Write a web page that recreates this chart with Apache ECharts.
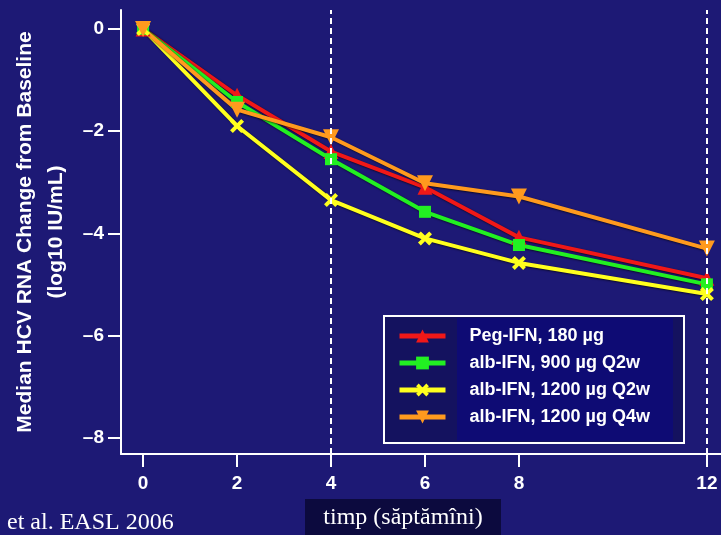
<!DOCTYPE html>
<html>
<head>
<meta charset="utf-8">
<title>HCV RNA change</title>
<script src="https://cdn.jsdelivr.net/npm/echarts@6/dist/echarts.min.js"></script>
<style>
  html, body { margin: 0; padding: 0; background: #1d1975; }
  #chart { width: 721px; height: 535px; }
</style>
</head>
<body>
<div id="chart"></div>
<script>
// weeks on the x axis
const weeks = [0, 2, 4, 6, 8, 12];
const xTicks = [0, 2, 4, 6, 8, 12];
const yTicks = [0, -2, -4, -6, -8];
// dashed reference weeks
const markWeeks = [4, 12];

const seriesNames = [
  'Peg-IFN, 180 µg',
  'alb-IFN, 900 µg Q2w',
  'alb-IFN, 1200 µg Q2w',
  'alb-IFN, 1200 µg Q4w'
];
// median change, log10 IU/mL
const pegIfn180 = [0, -1.3, -2.4, -3.1, -4.08, -4.88];
const albIfn900Q2w = [0, -1.43, -2.55, -3.58, -4.23, -5.0];
const albIfn1200Q2w = [0, -1.9, -3.35, -4.1, -4.58, -5.19];
const albIfn1200Q4w = [0, -1.58, -2.12, -3.02, -3.28, -4.3];

const colors = ['#f01818', '#22f022', '#ffff1e', '#ff9a1e'];
const crossPath = 'path://M2,0L5,3L8,0L10,2L7,5L10,8L8,10L5,7L2,10L0,8L3,5L0,2Z';

const chart = echarts.init(document.getElementById('chart'));

function pairs(values) {
  return weeks.map((w, i) => [w, values[i]]);
}

function lineSeries(name, values, color, symbol, size, rotate) {
  return {
    name: name,
    type: 'line',
    data: pairs(values),
    symbol: symbol,
    symbolSize: size,
    symbolRotate: rotate || 0,
    showSymbol: true,
    lineStyle: {
      color: color,
      width: 4,
      shadowColor: 'rgba(0,0,0,0.7)',
      shadowBlur: 2,
      shadowOffsetX: 1,
      shadowOffsetY: 1
    },
    itemStyle: {color: color},
    emphasis: {disabled: true},
    animation: false
  };
}

const minusLabel = v => (v < 0 ? '–' + (-v) : String(v));

const series = [
  lineSeries(seriesNames[0], pegIfn180, colors[0], 'triangle', 15),
  lineSeries(seriesNames[1], albIfn900Q2w, colors[1], 'rect', 12),
  lineSeries(seriesNames[2], albIfn1200Q2w, colors[2], crossPath, 14),
  lineSeries(seriesNames[3], albIfn1200Q4w, colors[3], 'triangle', 16, 180)
];
// dashed verticals at week 4 and 12
series[0].markLine = {
  silent: true,
  symbol: 'none',
  label: {show: false},
  lineStyle: {color: '#ffffff', type: [6, 4], width: 2},
  data: markWeeks.map(w => ({xAxis: w}))
};

chart.setOption({
  backgroundColor: '#1d1975',
  animation: false,
  grid: {left: 121, top: 10, right: 0, bottom: 81},
  xAxis: {
    type: 'value',
    min: -0.47,
    max: 12.3,
    name: 'Study Week',
    nameLocation: 'middle',
    nameGap: 45,
    nameTextStyle: {color: '#ffffff', fontSize: 21, fontWeight: 'bold', fontFamily: 'Liberation Sans'},
    axisLine: {onZero: false, lineStyle: {color: '#ffffff', width: 2}},
    axisTick: {length: 13, customValues: xTicks, lineStyle: {color: '#ffffff', width: 2}},
    axisLabel: {
      customValues: xTicks,
      margin: 20,
      color: '#ffffff',
      fontSize: 19,
      fontWeight: 'bold',
      fontFamily: 'Liberation Sans'
    },
    splitLine: {show: false}
  },
  yAxis: {
    type: 'value',
    min: -8.32,
    max: 0.37,
    name: 'Median HCV RNA Change from Baseline\n(log10 IU/mL)',
    nameLocation: 'middle',
    nameGap: 48,
    nameTextStyle: {
      color: '#ffffff', fontSize: 21, fontWeight: 'bold',
      fontFamily: 'Liberation Sans', lineHeight: 31
    },
    axisLine: {onZero: false, lineStyle: {color: '#ffffff', width: 2}},
    axisTick: {length: 13, customValues: yTicks, lineStyle: {color: '#ffffff', width: 2}},
    axisLabel: {
      customValues: yTicks,
      margin: 17,
      formatter: minusLabel,
      color: '#ffffff',
      fontSize: 19,
      fontWeight: 'bold',
      fontFamily: 'Liberation Sans'
    },
    splitLine: {show: false}
  },
  legend: {
    orient: 'vertical',
    left: 397,
    top: 326,
    padding: 0,
    itemWidth: 46,
    itemHeight: 16,
    itemGap: 7,
    selectedMode: false,
    lineStyle: {width: 5, shadowBlur: 0, shadowOffsetX: 0, shadowOffsetY: 0},
    textStyle: {
      color: '#ffffff', fontSize: 18, fontWeight: 'bold',
      fontFamily: 'Liberation Sans', lineHeight: 20, padding: [0, 0, 0, 19]
    },
    data: seriesNames
  },
  graphic: [
    {
      type: 'rect', z: 1,
      shape: {x: 384, y: 316, width: 300, height: 127},
      style: {fill: '#14125f', stroke: '#ffffff', lineWidth: 2}
    },
    {
      type: 'rect', z: 1,
      shape: {x: 457, y: 318, width: 216, height: 123},
      style: {fill: '#0e0b74'}
    },
    {
      type: 'rect', z: 100,
      shape: {x: 305, y: 499, width: 196, height: 36},
      style: {fill: '#0c0a3e'}
    },
    {
      type: 'text', z: 101, x: 403, y: 518,
      style: {
        text: 'timp (săptămîni)', fill: '#ffffff',
        font: '24px "Liberation Serif"', align: 'center', verticalAlign: 'middle'
      }
    },
    {
      type: 'text', z: 101, x: 7, y: 523,
      style: {
        text: 'et al. EASL 2006', fill: '#ffffff',
        font: '24px "Liberation Serif"', align: 'left', verticalAlign: 'middle'
      }
    }
  ],
  series: series
});
</script>
</body>
</html>
